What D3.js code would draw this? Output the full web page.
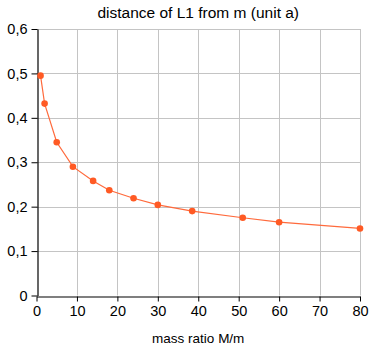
<!DOCTYPE html>
<html>
<head>
<meta charset="utf-8">
<script src="https://cdn.jsdelivr.net/npm/d3@7"></script>
<style>
  html, body { margin: 0; padding: 0; background: #fff; }
  svg { display: block; font-family: "Liberation Sans", Arial, Helvetica, sans-serif; }
</style>
</head>
<body>
<svg id="chart" width="374" height="348"></svg>
<script>
// Mass ratio M/m and the distance of L1 from the smaller mass (in units of a)
const massRatio = [1, 2, 5, 9, 14, 18, 24, 30, 38.5, 51, 60, 80];
const distanceL1 = [0.495, 0.432, 0.345, 0.290, 0.258, 0.237, 0.219, 0.204, 0.190, 0.175, 0.165, 0.151];
const xTicks = [0, 10, 20, 30, 40, 50, 60, 70, 80];
const yTicks = [0, 0.1, 0.2, 0.3, 0.4, 0.5, 0.6];

const titleText = "distance of L1 from m (unit a)";
const xLabel = "mass ratio M/m";

const svg = d3.select("#chart");
const margin = { left: 36.5, right: 14, top: 29, bottom: 52.5 };
const W = 374, H = 348;

const x = d3.scaleLinear().domain([0, 80]).range([margin.left, W - margin.right]);
const y = d3.scaleLinear().domain([0, 0.6]).range([H - margin.bottom, margin.top]);

const fmtY = d => d === 0 ? "0" : d3.format(".1f")(d).replace(".", ",");

// grid
const grid = svg.append("g").attr("stroke", "#c4c4c4").attr("stroke-width", 1);
grid.selectAll("line.v").data(xTicks.slice(1)).join("line")
  .attr("x1", d => Math.round(x(d)) + 0.5).attr("x2", d => Math.round(x(d)) + 0.5)
  .attr("y1", y(0)).attr("y2", y(0.6));
grid.selectAll("line.h").data(yTicks.slice(1)).join("line")
  .attr("y1", d => Math.round(y(d)) + 0.5).attr("y2", d => Math.round(y(d)) + 0.5)
  .attr("x1", x(0)).attr("x2", x(80));

// axes
const xAxis = svg.append("g")
  .attr("transform", `translate(0,${Math.round(y(0)) + 0.5})`)
  .call(d3.axisBottom(x).tickValues(xTicks).tickSize(5).tickSizeOuter(0).tickPadding(4));
const yAxis = svg.append("g")
  .attr("transform", `translate(${Math.round(x(0)) + 0.5},0)`)
  .call(d3.axisLeft(y).tickValues(yTicks).tickFormat(fmtY).tickSize(6).tickSizeOuter(0).tickPadding(4));

[xAxis, yAxis].forEach(a => {
  a.select(".domain").attr("stroke", "#000").attr("stroke-width", 1.2);
  a.selectAll(".tick line").attr("stroke", "#000");
  a.selectAll(".tick text").attr("fill", "#000").attr("font-size", 14.5)
    .attr("font-family", "'Liberation Sans', Arial, sans-serif");
});

// series line
const line = d3.line().x((d, i) => x(massRatio[i])).y(d => y(d));
svg.append("path")
  .datum(distanceL1)
  .attr("d", line)
  .attr("fill", "none")
  .attr("stroke", "#ff6a3c")
  .attr("stroke-width", 1.2);

// markers
svg.append("g").selectAll("circle").data(distanceL1).join("circle")
  .attr("cx", (d, i) => x(massRatio[i]))
  .attr("cy", d => y(d))
  .attr("r", 3.3)
  .attr("fill", "#ff5a24");

// title and axis label
svg.append("text")
  .attr("x", (x(0) + x(80)) / 2).attr("y", 18)
  .attr("text-anchor", "middle").attr("font-size", 15.5).attr("fill", "#000")
  .text(titleText);
svg.append("text")
  .attr("x", (x(0) + x(80)) / 2).attr("y", 343)
  .attr("text-anchor", "middle").attr("font-size", 13.5).attr("fill", "#000")
  .text(xLabel);
</script>
</body>
</html>
